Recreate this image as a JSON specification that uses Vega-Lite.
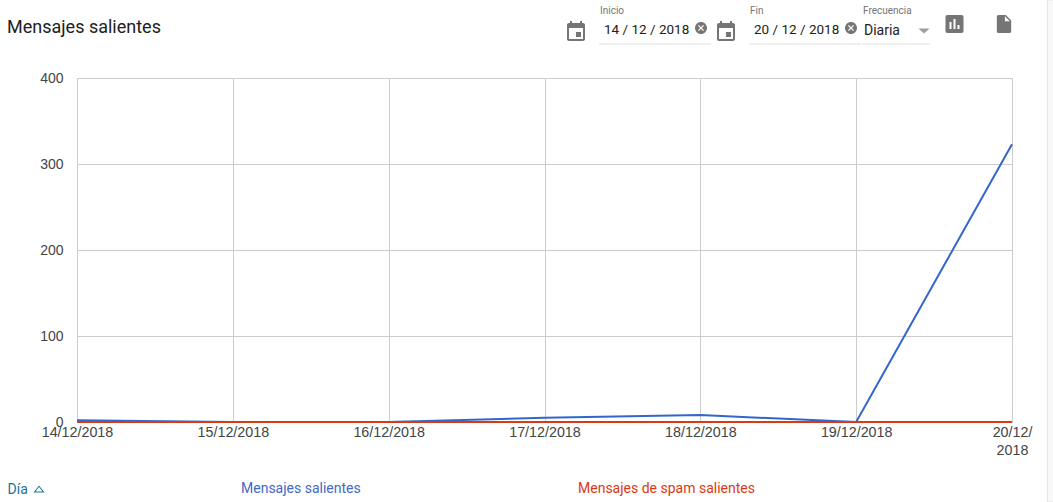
{
"$schema":"https://vega.github.io/schema/vega-lite/v6.json",
"width":935,"height":344,
"autosize":{"type":"none"},
"padding":{"left":77,"top":78,"right":41,"bottom":80},
"background":"white",
"view":{"stroke":"#cccccc","strokeWidth":1},
"title":{"text":"Mensajes salientes","anchor":"start","frame":"group","dx":-70,"offset":-37,"font":"Roboto","fontSize":18,"fontWeight":"normal","color":"#212121"},
"datasets":{
"serie":[
{"dia":"14/12/2018","serie":"Mensajes salientes","valor":2},
{"dia":"15/12/2018","serie":"Mensajes salientes","valor":0},
{"dia":"16/12/2018","serie":"Mensajes salientes","valor":0},
{"dia":"17/12/2018","serie":"Mensajes salientes","valor":5},
{"dia":"18/12/2018","serie":"Mensajes salientes","valor":8},
{"dia":"19/12/2018","serie":"Mensajes salientes","valor":0},
{"dia":"20/12/2018","serie":"Mensajes salientes","valor":323},
{"dia":"14/12/2018","serie":"Mensajes de spam salientes","valor":0},
{"dia":"15/12/2018","serie":"Mensajes de spam salientes","valor":0},
{"dia":"16/12/2018","serie":"Mensajes de spam salientes","valor":0},
{"dia":"17/12/2018","serie":"Mensajes de spam salientes","valor":0},
{"dia":"18/12/2018","serie":"Mensajes de spam salientes","valor":0},
{"dia":"19/12/2018","serie":"Mensajes de spam salientes","valor":0},
{"dia":"20/12/2018","serie":"Mensajes de spam salientes","valor":0}
]
},
"layer":[
{"data":{"values":[{"a":"s0","b":"s1","c":"t","d":"b"}]},"mark":{"type":"rect","fill":"#f8f8f8","stroke":"#e6e6e6","strokeWidth":1,"clip":false},
"encoding":{
"x":{"field":"a","type":"nominal","scale":{"type":"point","padding":0,"domain":["s0","s1"],"range":[970.5,985]},"axis":null},
"x2":{"field":"b"},
"y":{"field":"c","type":"nominal","scale":{"type":"point","padding":0,"domain":["t","b"],"range":[-78,424]},"axis":null},
"y2":{"field":"d"}}},
{"data":{"name":"serie"},"mark":{"type":"line","strokeWidth":2,"clip":false},
"encoding":{
"x":{"field":"dia","type":"ordinal","scale":{"type":"point","padding":0},
"axis":{"title":"Día","titleX":-70,"titleY":71,"titleAlign":"left","titleBaseline":"alphabetic","titleAnchor":null,"titleFont":"Roboto","titleFontSize":14,"titleFontWeight":"normal","titleColor":"#1a7399",
"labelAngle":0,"labelFont":"Liberation Sans","labelFontSize":14.3,"labelColor":"#444444","labelPadding":3,"labelOverlap":false,"labelBound":false,"labelFlush":false,"labelLineHeight":18,"labelLimit":0,
"labelExpr":"datum.value=='20/12/2018' ? ['20/12/','2018'] : datum.value",
"ticks":false,"domain":false,"grid":true,"gridColor":"#cccccc","gridWidth":1}},
"y":{"field":"valor","type":"quantitative","scale":{"domain":[0,400],"nice":false},
"axis":{"title":null,"values":[0,100,200,300,400],"labelFont":"Liberation Sans","labelFontSize":14,"labelColor":"#444444","labelPadding":14,"ticks":false,"domain":false,"grid":true,"gridColor":"#cccccc","gridWidth":1}},
"color":{"field":"serie","type":"nominal","scale":{"domain":["Mensajes salientes","Mensajes de spam salientes"],"range":["#3366cc","#dc3912"]},
"legend":{"title":null,"orient":"none","legendX":150,"legendY":404,"direction":"horizontal","columns":2,"columnPadding":203,"symbolSize":0,"symbolStrokeWidth":0,"symbolOpacity":0,"labelOffset":0,"labelFont":"Roboto","labelFontSize":14,"labelLimit":0,"padding":0,
"labelColor":{"expr":"datum.label=='Mensajes salientes' ? '#4169c8' : '#dc3912'"}}}}},
{"data":{"values":[{"t":"Inicio"}]},"mark":{"type":"text","font":"Roboto","fontSize":10,"color":"#757575","align":"left","baseline":"alphabetic","clip":false},
"encoding":{"text":{"field":"t"},"x":{"field":"t","type":"nominal","scale":{"domain":["Inicio"],"range":[523,523]},"axis":null},"y":{"field":"t","type":"nominal","scale":{"domain":["Inicio"],"range":[-64,-64]},"axis":null}}},
{"data":{"values":[{"t":"Fin"}]},"mark":{"type":"text","font":"Roboto","fontSize":10,"color":"#757575","align":"left","baseline":"alphabetic","clip":false},
"encoding":{"text":{"field":"t"},"x":{"field":"t","type":"nominal","scale":{"domain":["Fin"],"range":[673,673]},"axis":null},"y":{"field":"t","type":"nominal","scale":{"domain":["Fin"],"range":[-64,-64]},"axis":null}}},
{"data":{"values":[{"t":"Frecuencia"}]},"mark":{"type":"text","font":"Roboto","fontSize":10,"color":"#757575","align":"left","baseline":"alphabetic","clip":false},
"encoding":{"text":{"field":"t"},"x":{"field":"t","type":"nominal","scale":{"domain":["Frecuencia"],"range":[786,786]},"axis":null},"y":{"field":"t","type":"nominal","scale":{"domain":["Frecuencia"],"range":[-64,-64]},"axis":null}}},
{"data":{"values":[{"t":"14 / 12 / 2018"}]},"mark":{"type":"text","font":"Roboto","fontSize":13.5,"color":"#212121","align":"left","baseline":"alphabetic","clip":false},
"encoding":{"text":{"field":"t"},"x":{"field":"t","type":"nominal","scale":{"domain":["14 / 12 / 2018"],"range":[527,527]},"axis":null},"y":{"field":"t","type":"nominal","scale":{"domain":["14 / 12 / 2018"],"range":[-44,-44]},"axis":null}}},
{"data":{"values":[{"t":"20 / 12 / 2018"}]},"mark":{"type":"text","font":"Roboto","fontSize":13.5,"color":"#212121","align":"left","baseline":"alphabetic","clip":false},
"encoding":{"text":{"field":"t"},"x":{"field":"t","type":"nominal","scale":{"domain":["20 / 12 / 2018"],"range":[677,677]},"axis":null},"y":{"field":"t","type":"nominal","scale":{"domain":["20 / 12 / 2018"],"range":[-44,-44]},"axis":null}}},
{"data":{"values":[{"t":"Diaria"}]},"mark":{"type":"text","font":"Roboto","fontSize":14,"color":"#212121","align":"left","baseline":"alphabetic","clip":false},
"encoding":{"text":{"field":"t"},"x":{"field":"t","type":"nominal","scale":{"domain":["Diaria"],"range":[787,787]},"axis":null},"y":{"field":"t","type":"nominal","scale":{"domain":["Diaria"],"range":[-43,-43]},"axis":null}}},
{"data":{"values":[{"a":"i0","b":"i1","f":"l"}]},"mark":{"type":"rule","color":"#e0e0e0","strokeWidth":1,"clip":false},
"encoding":{"x":{"field":"a","type":"nominal","scale":{"type":"point","padding":0,"domain":["i0","i1"],"range":[522,634]},"axis":null},"x2":{"field":"b"},"y":{"field":"f","type":"nominal","scale":{"domain":["l"],"range":[-34,-34]},"axis":null}}},
{"data":{"values":[{"a":"f0","b":"f1","f":"l"}]},"mark":{"type":"rule","color":"#e0e0e0","strokeWidth":1,"clip":false},
"encoding":{"x":{"field":"a","type":"nominal","scale":{"type":"point","padding":0,"domain":["f0","f1"],"range":[672,784]},"axis":null},"x2":{"field":"b"},"y":{"field":"f","type":"nominal","scale":{"domain":["l"],"range":[-34,-34]},"axis":null}}},
{"data":{"values":[{"a":"r0","b":"r1","f":"l"}]},"mark":{"type":"rule","color":"#e0e0e0","strokeWidth":1,"clip":false},
"encoding":{"x":{"field":"a","type":"nominal","scale":{"type":"point","padding":0,"domain":["r0","r1"],"range":[785,853]},"axis":null},"x2":{"field":"b"},"y":{"field":"f","type":"nominal","scale":{"domain":["l"],"range":[-34,-34]},"axis":null}}},
{"data":{"values":[{"n":"calendario inicio"}]},"mark":{"type":"point","filled":true,"opacity":1,"clip":false,"color":"#757575","size":4,"shape":"M5 0h-5v5h5v-5zM4 -11v2H-4V-11H-6v2H-7c-1.11 0-1.99.9-1.99 2L-9 7c0 1.1.89 2 2 2h14c1.1 0 2-.9 2-2V-7c0-1.1-.9-2-2-2h-1V-11h-2zm3 18H-7V-4h14v11z"},
"encoding":{"x":{"field":"n","type":"nominal","scale":{"domain":["calendario inicio"],"range":[499,499]},"axis":null},"y":{"field":"n","type":"nominal","scale":{"domain":["calendario inicio"],"range":[-46,-46]},"axis":null}}},
{"data":{"values":[{"n":"calendario fin"}]},"mark":{"type":"point","filled":true,"opacity":1,"clip":false,"color":"#757575","size":4,"shape":"M5 0h-5v5h5v-5zM4 -11v2H-4V-11H-6v2H-7c-1.11 0-1.99.9-1.99 2L-9 7c0 1.1.89 2 2 2h14c1.1 0 2-.9 2-2V-7c0-1.1-.9-2-2-2h-1V-11h-2zm3 18H-7V-4h14v11z"},
"encoding":{"x":{"field":"n","type":"nominal","scale":{"domain":["calendario fin"],"range":[649,649]},"axis":null},"y":{"field":"n","type":"nominal","scale":{"domain":["calendario fin"],"range":[-46,-46]},"axis":null}}},
{"data":{"values":[{"n":"borrar inicio"}]},"mark":{"type":"point","filled":true,"opacity":1,"clip":false,"color":"#757575","size":1.44,"shape":"M0 -10C-5.53 -10 -10 -5.53 -10 0s4.47 10 10 10 10-4.47 10-10S5.53 -10 0 -10zm5 13.59L3.59 5 0 1.41 -3.59 5 -5 3.59 -1.41 0 -5 -3.59 -3.59 -5 0 -1.41 3.59 -5 5 -3.59 1.41 0 5 3.59z"},
"encoding":{"x":{"field":"n","type":"nominal","scale":{"domain":["borrar inicio"],"range":[624,624]},"axis":null},"y":{"field":"n","type":"nominal","scale":{"domain":["borrar inicio"],"range":[-50,-50]},"axis":null}}},
{"data":{"values":[{"n":"borrar fin"}]},"mark":{"type":"point","filled":true,"opacity":1,"clip":false,"color":"#757575","size":1.44,"shape":"M0 -10C-5.53 -10 -10 -5.53 -10 0s4.47 10 10 10 10-4.47 10-10S5.53 -10 0 -10zm5 13.59L3.59 5 0 1.41 -3.59 5 -5 3.59 -1.41 0 -5 -3.59 -3.59 -5 0 -1.41 3.59 -5 5 -3.59 1.41 0 5 3.59z"},
"encoding":{"x":{"field":"n","type":"nominal","scale":{"domain":["borrar fin"],"range":[774,774]},"axis":null},"y":{"field":"n","type":"nominal","scale":{"domain":["borrar fin"],"range":[-50,-50]},"axis":null}}},
{"data":{"values":[{"n":"barras"}]},"mark":{"type":"point","filled":true,"opacity":1,"clip":false,"color":"#757575","size":4,"shape":"M7 -9H-7c-1.1 0-2 .9-2 2v14c0 1.1.9 2 2 2h14c1.1 0 2-.9 2-2V-7c0-1.1-.9-2-2-2zM-3 5H-5v-7h2v7zm4 0h-2V-5h2v10zm4 0h-2v-4h2v4z"},
"encoding":{"x":{"field":"n","type":"nominal","scale":{"domain":["barras"],"range":[877.5,877.5]},"axis":null},"y":{"field":"n","type":"nominal","scale":{"domain":["barras"],"range":[-54,-54]},"axis":null}}},
{"data":{"values":[{"n":"documento"}]},"mark":{"type":"point","filled":true,"opacity":1,"clip":false,"color":"#757575","size":3.24,"shape":"M-6 -10c-1.1 0-1.99.9-1.99 2L-8 8c0 1.1.89 2 2 2h12c1.1 0 2-.9 2-2V-4l-6-6H-6zm7 7V-8.5L6.5 -3H1z"},
"encoding":{"x":{"field":"n","type":"nominal","scale":{"domain":["documento"],"range":[927,927]},"axis":null},"y":{"field":"n","type":"nominal","scale":{"domain":["documento"],"range":[-54,-54]},"axis":null}}},
{"data":{"values":[{"n":"flecha"}]},"mark":{"type":"point","filled":true,"opacity":1,"clip":false,"color":"#9e9e9e","size":4,"shape":"M-5.5 -2.5L5.5 -2.5L0 2.5Z"},
"encoding":{"x":{"field":"n","type":"nominal","scale":{"domain":["flecha"],"range":[847,847]},"axis":null},"y":{"field":"n","type":"nominal","scale":{"domain":["flecha"],"range":[-47,-47]},"axis":null}}},
{"data":{"values":[{"n":"orden"}]},"mark":{"type":"point","filled":true,"opacity":1,"clip":false,"color":"#1a7399","size":4,"shape":"M-5.5 3.5L0 -3.5L5.5 3.5ZM-3.5 2.5L3.5 2.5L0 -2Z"},
"encoding":{"x":{"field":"n","type":"nominal","scale":{"domain":["orden"],"range":[-38,-38]},"axis":null},"y":{"field":"n","type":"nominal","scale":{"domain":["orden"],"range":[411,411]},"axis":null}}}
],
"resolve":{"scale":{"x":"independent","y":"independent","color":"independent"},"axis":{"x":"independent","y":"independent"}}
}
